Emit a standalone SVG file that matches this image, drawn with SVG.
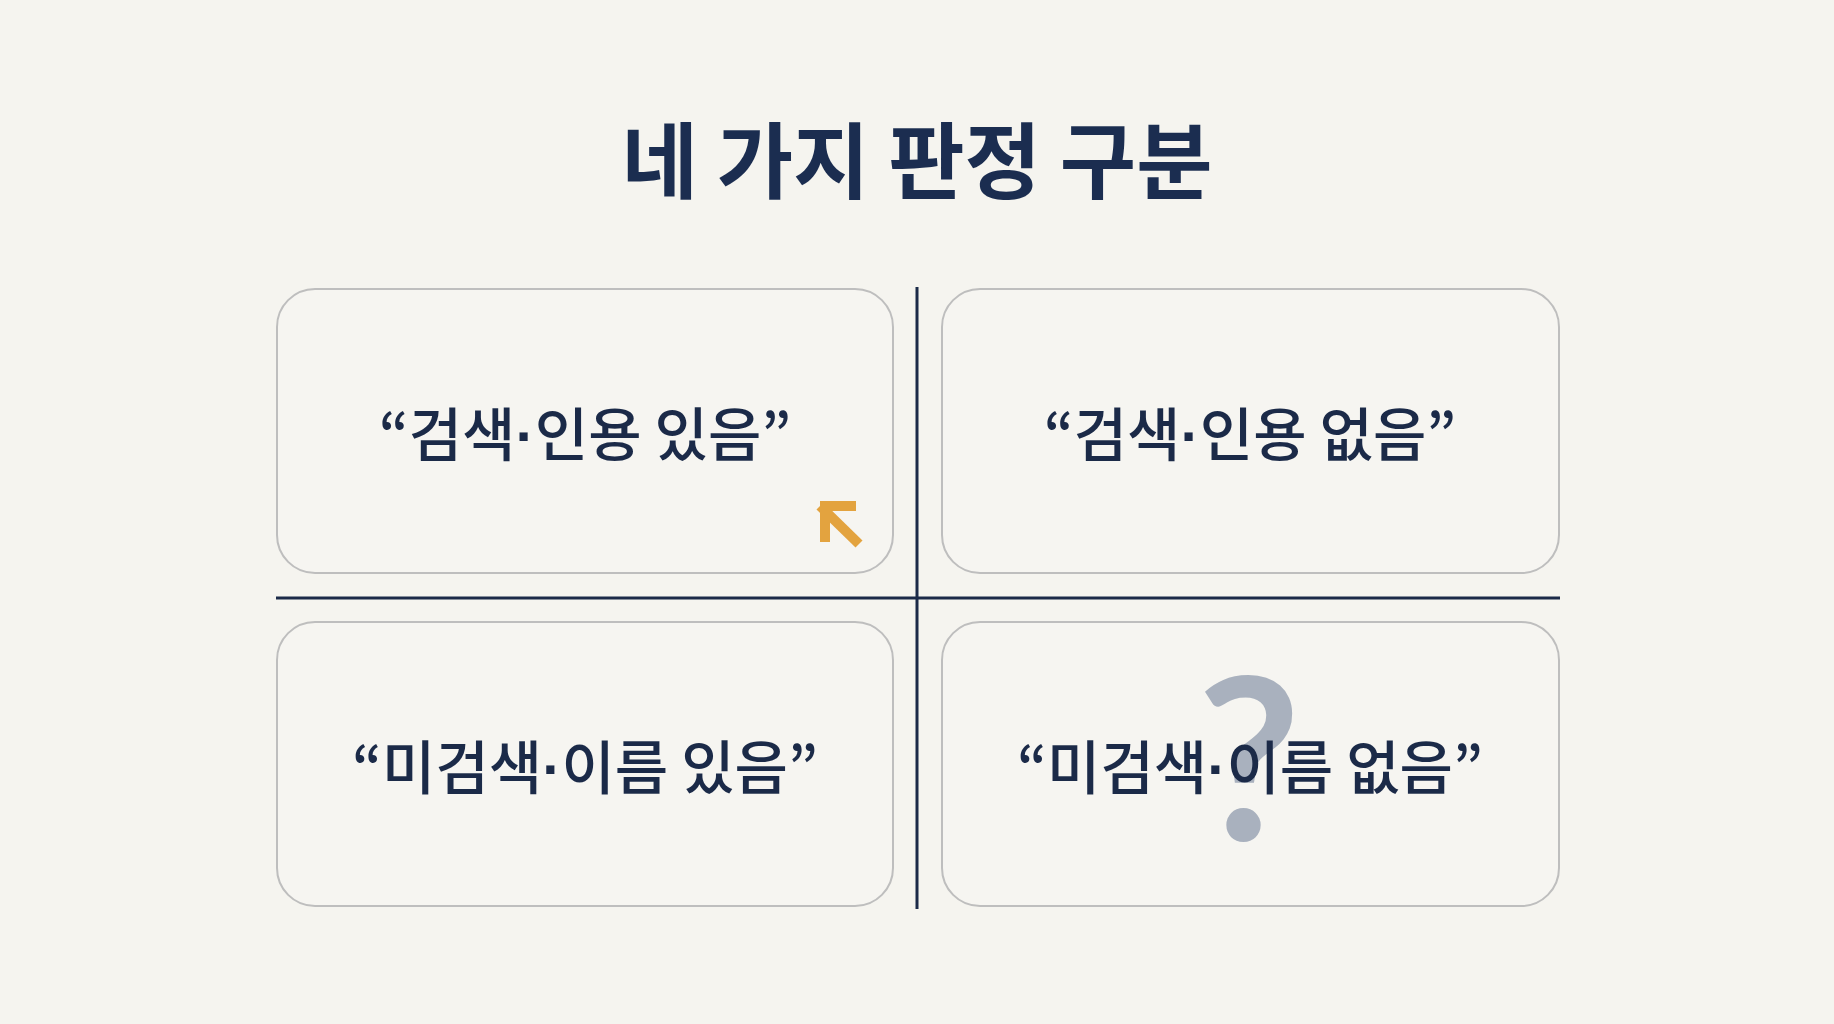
<svg xmlns="http://www.w3.org/2000/svg" width="1834" height="1024" viewBox="0 0 1834 1024">
<style>
.bg{fill:#F5F4EF}
.box{fill:#F6F5F1;stroke:#BEBEBE;stroke-width:2}
.lbl{font-family:"Noto Sans CJK KR","Noto Sans",sans-serif;font-size:58px;font-weight:500;fill:#1B2A48;text-anchor:middle}
.dot{font-family:"Liberation Sans",sans-serif;font-weight:700}
.title{font-family:"Noto Sans CJK KR","Noto Sans",sans-serif;font-size:83px;font-weight:700;fill:#1B2D50;text-anchor:middle}
.grid{stroke:#1B2A48;stroke-width:3;fill:none}
</style>
<rect class="bg" x="0" y="0" width="1834" height="1024"/>
<text class="title" x="917" y="192">네 가지 판정 구분</text>
<g id="connectors">
<line class="grid" x1="917" y1="287" x2="917" y2="909"/>
<line class="grid" x1="276" y1="598" x2="1560" y2="598"/>
</g>
<g id="node-tl">
<rect class="box" x="277" y="289" width="616" height="284" rx="38"/>
<text class="lbl" x="585" y="456">“검색<tspan class="dot">·</tspan>인용 있음”</text>
<path d="M820 506 L859 544" stroke="#E3A33F" stroke-width="10" fill="none"/>
<path d="M820 506 H856 M825 506 V542" stroke="#E3A33F" stroke-width="10" fill="none"/>
</g>
<g id="node-tr">
<rect class="box" x="942" y="289" width="617" height="284" rx="38"/>
<text class="lbl" x="1250" y="456">“검색<tspan class="dot">·</tspan>인용 없음”</text>
</g>
<g id="node-bl">
<rect class="box" x="277" y="622" width="616" height="284" rx="38"/>
<text class="lbl" x="585" y="789">“미검색<tspan class="dot">·</tspan>이름 있음”</text>
</g>
<g id="node-br">
<rect class="box" x="942" y="622" width="617" height="284" rx="38"/>
<text x="1249" y="840" font-family="Lato, sans-serif" font-weight="700" font-size="226" fill="#A9B1BE" text-anchor="middle">?</text>
<text class="lbl" x="1250" y="789">“미검색<tspan class="dot">·</tspan>이름 없음”</text>
</g>
</svg>
